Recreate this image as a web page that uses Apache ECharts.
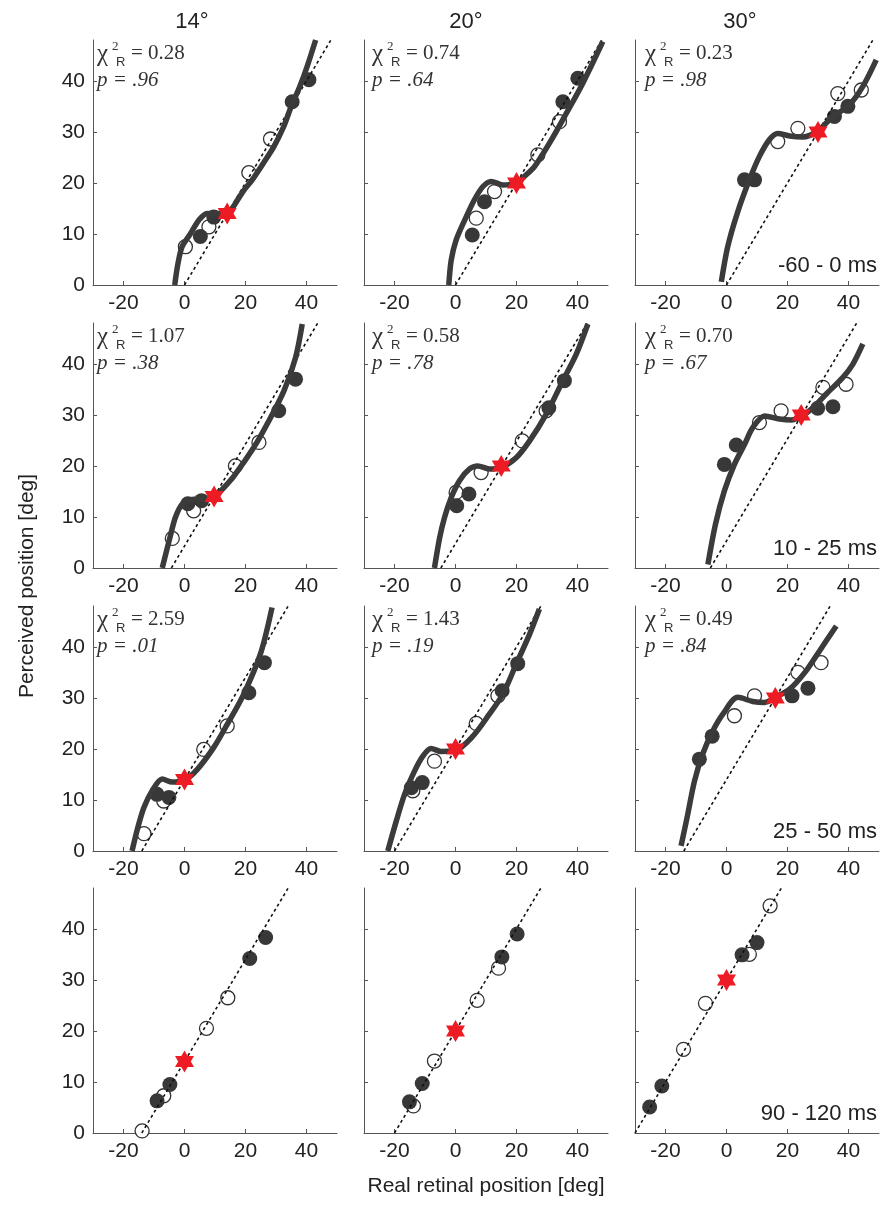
<!DOCTYPE html>
<html>
<head>
<meta charset="utf-8">
<script src="https://cdn.jsdelivr.net/npm/echarts@6/dist/echarts.min.js"></script>
<style>
  html, body { margin: 0; padding: 0; background: #fff; }
  #chart { width: 888px; height: 1221px; }
</style>
</head>
<body>
<div id="chart"></div>
<script>
// column / row labels
const colTitles = ['14°', '20°', '30°']
const timeLabels = ['-60 - 0 ms', '10 - 25 ms', '25 - 50 ms', '90 - 120 ms']
const xTicks = [-20, 0, 20, 40]
const yTicks = [0, 10, 20, 30, 40]

// fit statistics, panels row by row (rows 1-3 only)
const chiValues = ['0.28', '0.74', '0.23', '1.07', '0.58', '0.70', '2.59', '1.43', '0.49']
const pValues = ['.96', '.64', '.98', '.38', '.78', '.67', '.01', '.19', '.84']

// open circles [real, perceived], 12 panels row by row
const openPoints = [
    [[0.3, 7.5], [8, 11.4], [21.1, 22], [28.2, 28.6]],
    [[6.8, 13.1], [12.8, 18.3], [27, 25.5], [34.1, 32]],
    [[16.8, 28.1], [23.4, 30.7], [36.5, 37.5], [44.2, 38.2]],
    [[-4, 5.8], [3, 11.2], [16.7, 20], [24.4, 24.6]],
    [[0.2, 14.8], [8.4, 18.7], [21.9, 24.9], [29.7, 30.8]],
    [[10.8, 28.5], [17.9, 30.8], [31.6, 35.4], [39.2, 36]],
    [[-13.3, 3.4], [-6.8, 9.8], [6.3, 19.9], [14, 24.5]],
    [[-14, 11.8], [-6.9, 17.6], [6.8, 25], [13.9, 30.4]],
    [[2.6, 26.5], [9.2, 30.4], [23.4, 35], [31, 36.9]],
    [[-13.9, 0.4], [-6.8, 7.3], [7.2, 20.5], [14.2, 26.5]],
    [[-13.8, 5.3], [-6.9, 14.1], [7.1, 26], [14.1, 32.3]],
    [[-14.1, 16.4], [-6.9, 25.4], [7.5, 35], [14.3, 44.5]]
]

// filled circles
const filledPoints = [
    [[5.2, 9.5], [9.6, 13.3], [35.3, 35.9], [40.8, 40.2]],
    [[5.5, 9.8], [9.5, 16.3], [35.2, 35.9], [40.1, 40.5]],
    [[5.9, 20.6], [9.2, 20.6], [35.4, 33], [39.8, 35]],
    [[1.1, 12.6], [5.6, 13.2], [30.9, 30.8], [36.4, 37]],
    [[0.4, 12.2], [4.4, 14.5], [30.6, 31.4], [35.7, 36.7]],
    [[-0.7, 20.3], [3.2, 24.1], [29.9, 31.3], [34.9, 31.6]],
    [[-9, 11.1], [-5.1, 10.5], [21.1, 31], [26.2, 36.9]],
    [[-14.5, 12.4], [-10.9, 13.4], [15.3, 31.4], [20.4, 36.7]],
    [[-8.9, 18], [-4.7, 22.5], [21.5, 30.4], [26.7, 31.9]],
    [[-9, 6.3], [-4.8, 9.5], [21.4, 34.2], [26.6, 38.3]],
    [[-15.1, 6.1], [-10.9, 9.7], [15.2, 34.5], [20.2, 39]],
    [[-25.2, 5.1], [-21.2, 9.2], [5.1, 34.9], [10, 37.3]]
]

// fitted curves (bottom row has none)
const fitCurves = [
    [[-3.2, 0], [-2.2, 4], [-0.8, 7.5], [2, 10.1], [4.7, 12.7], [7.4, 14], [10, 14], [14, 14], [17, 16.3], [19.5, 18.6], [22.2, 20.6], [26, 24], [29.3, 27.1], [32.5, 31], [35, 35], [37.8, 38.9], [40.2, 42.8], [43, 48]],
    [[-2.2, 0], [-1.4, 4.9], [0.2, 8.8], [3, 12.7], [6.2, 16.7], [9, 19.3], [11.7, 20.3], [15.5, 19.6], [19.9, 20], [23, 21.5], [25.9, 23.2], [31.4, 28.4], [36.3, 33.6], [41.7, 39.5], [48.3, 47.7]],
    [[-1.7, 0.6], [0.4, 7.5], [3.5, 14], [7.5, 20.6], [10.8, 25.2], [14.1, 28.5], [16.8, 29.7], [20.7, 29.2], [25, 29], [30, 30.2], [34.3, 32.7], [40.3, 35.3], [44.7, 38.9], [49.1, 44.1]],
    [[-7.3, 0], [-4.8, 5.9], [-3, 9.9], [-0.8, 12.5], [2, 13.4], [5, 13.5], [7.4, 13.4], [9.6, 13.8], [13, 15.8], [16.2, 18], [22.7, 23.6], [27.1, 28.2], [32.6, 34.7], [36.4, 41.2], [38.6, 47.8]],
    [[-6.9, 0], [-5.2, 5.9], [-3.6, 9.9], [-1.4, 13.8], [1.3, 17.1], [4.6, 19.4], [7.3, 20], [11.1, 19.4], [15, 19.7], [19.9, 21.6], [24.3, 24.9], [29.7, 30.1], [35.2, 36.7], [39.6, 41.9], [43.4, 47.8]],
    [[-6.1, 0.7], [-3.6, 8.6], [-0.7, 15.1], [2.6, 20.3], [5.9, 24.2], [8.6, 27.5], [12.5, 29.8], [17.4, 29.2], [21.2, 29], [24.8, 29.8], [28.3, 31.4], [32.7, 34.1], [38.1, 37.3], [41.4, 39.9], [44.7, 43.9]],
    [[-17.2, 0], [-15.3, 4.6], [-13.3, 8.5], [-10.6, 11.8], [-7.3, 14.1], [-4, 13.5], [0.1, 13.9], [4.2, 16], [9.6, 20.3], [14, 24.8], [19.4, 30.7], [24.9, 38.6], [28.7, 47.7]],
    [[-22.2, 0], [-19.4, 5.9], [-16.7, 11.1], [-13.4, 15.7], [-10.7, 18.6], [-8, 20.1], [-4.7, 19.5], [0, 19.7], [5.7, 22.5], [11.1, 26.8], [15.5, 30.7], [19.9, 36.6], [24.3, 42.5], [27.5, 47.4]],
    [[-14.9, 1], [-12.7, 7.2], [-10.5, 13.7], [-7.8, 19], [-4.5, 23.5], [-1.2, 26.8], [3.7, 30.1], [8.6, 29.3], [12.5, 29.1], [16, 30.1], [20.7, 31.7], [26.1, 35.3], [30.5, 39.2], [36, 44.1]],
    [], [], []
]

// red star (target) per panel
const starPoints = [
    [14, 14], [20, 20], [30, 30],
    [9.7, 14], [15, 20], [24.5, 30],
    [0, 14], [0, 20], [16, 30],
    [0, 14], [0, 20], [0, 30]
]

// dotted veridical lines, end points
const diagonals = [
    [[0, 0], [48, 48]], [[0, 0], [48, 48]], [[0, 0], [48, 48]],
    [[-4.3, 0], [43.7, 48]], [[-4.8, 0], [43.2, 48]], [[-5.3, 0], [42.7, 48]],
    [[-14, 0], [34, 48]], [[-20, 0], [28, 48]], [[-14, 0], [34, 48]],
    [[-14, 0], [34, 48]], [[-20, 0], [28, 48]], [[-30, 0], [18, 48]]
]

const colLeft = [93, 364, 635]
const rowTop = [40, 323, 606, 888]
const gridW = 244
const gridH = 245
const textLeft = [97, 372, 645]

const sans = '"Liberation Sans", Arial, sans-serif'
const serif = '"Liberation Serif", "Times New Roman", serif'
const starPath = 'path://M50 0L64.43 25L93.3 25L78.87 50L93.3 75L64.43 75L50 100L35.57 75L6.7 75L21.13 50L6.7 25L35.57 25Z'

const panels = Array.from({ length: 12 }, (item, i) => ({ row: Math.floor(i / 3), col: i % 3, index: i }))

const grid = panels.map(p => ({
    left: colLeft[p.col],
    top: rowTop[p.row],
    width: gridW,
    height: gridH
}))

const xAxis = panels.map(p => ({
    type: 'value',
    gridIndex: p.index,
    min: -30,
    max: 50,
    axisLine: { show: true, onZero: false, lineStyle: { color: '#555', width: 1 } },
    axisTick: { show: true, inside: true, length: 4, customValues: xTicks, lineStyle: { color: '#555' } },
    axisLabel: { customValues: xTicks, fontSize: 21, color: '#222', fontFamily: sans, margin: 8 },
    splitLine: { show: false }
}))

const yAxis = panels.map(p => ({
    type: 'value',
    gridIndex: p.index,
    min: 0,
    max: 48,
    axisLine: { show: true, onZero: false, lineStyle: { color: '#555', width: 1 } },
    axisTick: { show: true, inside: true, length: 4, customValues: yTicks, lineStyle: { color: '#555' } },
    axisLabel: { show: p.col === 0, customValues: yTicks, fontSize: 21, color: '#222', fontFamily: sans, margin: 8 },
    splitLine: { show: false }
}))

const series = []
panels.forEach(p => {
    const i = p.index
    series.push({
        type: 'scatter', xAxisIndex: i, yAxisIndex: i, z: 2,
        data: openPoints[i], symbol: 'circle', symbolSize: 14,
        itemStyle: { color: '#fff', borderColor: '#333', borderWidth: 1.3, opacity: 1 }
    })
    series.push({
        type: 'scatter', xAxisIndex: i, yAxisIndex: i, z: 3,
        data: filledPoints[i], symbol: 'circle', symbolSize: 15,
        itemStyle: { color: '#383838', opacity: 1 }
    })
    series.push({
        type: 'line', xAxisIndex: i, yAxisIndex: i, z: 4,
        data: diagonals[i], symbol: 'none',
        lineStyle: { color: '#111', width: 1.6, type: [3, 3] }
    })
    if (fitCurves[i].length) {
        series.push({
            type: 'line', xAxisIndex: i, yAxisIndex: i, z: 5,
            data: fitCurves[i], symbol: 'none', smooth: 0.3,
            lineStyle: { color: '#3b3b3b', width: 5.5 }
        })
    }
    series.push({
        type: 'scatter', xAxisIndex: i, yAxisIndex: i, z: 6,
        data: [starPoints[i]], symbol: starPath, symbolSize: [19, 22],
        itemStyle: { color: '#ed1c24', opacity: 1 }
    })
})

const graphic = []
colTitles.forEach((t, c) => {
    graphic.push({ type: 'text', style: { text: t, x: [192, 466, 740][c], y: 22, align: 'center', verticalAlign: 'middle', font: '22px ' + sans, fill: '#222' } })
})
timeLabels.forEach((t, r) => {
    graphic.push({ type: 'text', z: 10, style: { text: t, x: 877, y: rowTop[r] + 226, align: 'right', verticalAlign: 'middle', font: '22px ' + sans, fill: '#222' } })
})
chiValues.forEach((v, k) => {
    const x = textLeft[k % 3]
    const y = rowTop[Math.floor(k / 3)] + 13
    graphic.push({ type: 'text', z: 10, style: { text: 'χ', x, y: y + 1, verticalAlign: 'middle', font: '25px ' + serif, fill: '#333' } })
    graphic.push({ type: 'text', z: 10, style: { text: '2', x: x + 15, y: y - 6, verticalAlign: 'middle', font: '13px ' + serif, fill: '#333' } })
    graphic.push({ type: 'text', z: 10, style: { text: 'R', x: x + 19, y: y + 9, verticalAlign: 'middle', font: '13px ' + sans, fill: '#333' } })
    graphic.push({ type: 'text', z: 10, style: { text: '= ' + v, x: x + 34, y, verticalAlign: 'middle', font: '21px ' + serif, fill: '#333' } })
    graphic.push({ type: 'text', z: 10, style: { text: 'p = ' + pValues[k], x, y: y + 27, verticalAlign: 'middle', font: 'italic 21px ' + serif, fill: '#333' } })
})
graphic.push({
    type: 'text', x: 27, y: 586, rotation: Math.PI / 2,
    style: { text: 'Perceived position [deg]', x: 0, y: 0, align: 'center', verticalAlign: 'middle', font: '21px ' + sans, fill: '#222' }
})
graphic.push({
    type: 'text',
    style: { text: 'Real retinal position [deg]', x: 486, y: 1186, align: 'center', verticalAlign: 'middle', font: '21px ' + sans, fill: '#222' }
})

const chart = echarts.init(document.getElementById('chart'), null, { renderer: 'canvas' })
chart.setOption({
    animation: false,
    backgroundColor: '#fff',
    grid,
    xAxis,
    yAxis,
    series,
    graphic
})
</script>
</body>
</html>
